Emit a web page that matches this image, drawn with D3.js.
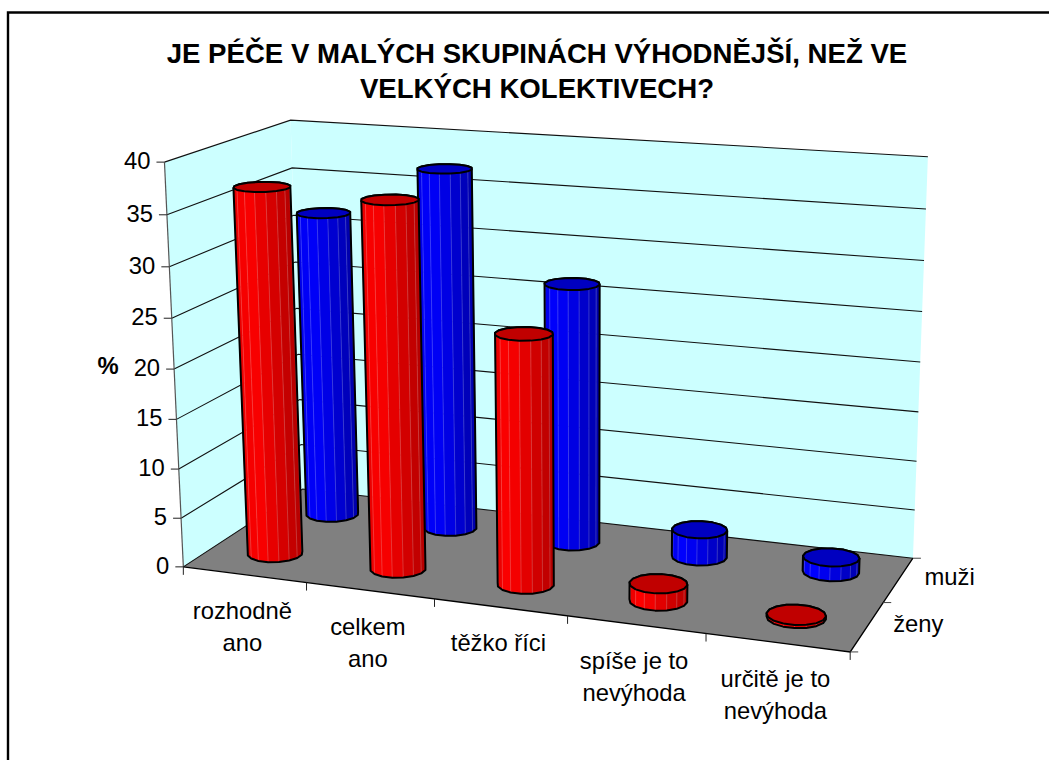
<!DOCTYPE html>
<html>
<head>
<meta charset="utf-8">
<title>Je péče v malých skupinách výhodnější</title>
<script src="https://cdn.jsdelivr.net/npm/d3@7"></script>
<style>
  body { margin: 0; background: #fff; }
  text { font-family: "Liberation Sans", Arial, sans-serif; fill: #000; }
</style>
</head>
<body>
<div id="root"></div>
<script>
// chart data
const categories = ["rozhodně ano", "celkem ano", "těžko říci", "spíše je to nevýhoda", "určitě je to nevýhoda"];
const categoryLines = [["rozhodně", "ano"], ["celkem", "ano"], ["těžko říci"], ["spíše je to", "nevýhoda"], ["určitě je to", "nevýhoda"]];
const seriesNames = ["ženy", "muži"];
const zeny = [36.9, 36.5, 24.7, 1.7, 0.3];
const muzi = [31.9, 37.2, 26.6, 2.8, 1.5];
const yTicks = [0, 5, 10, 15, 20, 25, 30, 35, 40];
const titleLines = ["JE PÉČE V MALÝCH SKUPINÁCH VÝHODNĚJŠÍ, NEŽ VE", "VELKÝCH KOLEKTIVECH?"];

// scales, everything goes to the unit cube first
const x = d3.scaleBand().domain(categories).range([0, 1]);
const y = d3.scaleLinear().domain([0, 40]).range([0, 1]);
const z = d3.scaleBand().domain(seriesNames).range([0, 1]);

// where the corners of the chart box sit on the page: [cube x, y, z, page x, page y]
const boxCorners = [
  [0, 0, 0, 183, 566],
  [1, 0, 0, 850, 653],
  [0, 0, 1, 303, 490],
  [1, 0, 1, 913, 557],
  [0, 1, 0, 165, 162],
  [0, 1, 1, 290, 120],
  [1, 1, 1, 928, 157],
];

// fit the perspective camera to the corners (least squares)
function fitCamera(corners) {
  const rows = [], rhs = [];
  corners.forEach(([a, b, c, px, py]) => {
    rows.push([a, b, c, 1, 0, 0, 0, 0, -px * a, -px * b, -px * c]);
    rhs.push(px);
    rows.push([0, 0, 0, 0, a, b, c, 1, -py * a, -py * b, -py * c]);
    rhs.push(py);
  });
  const n = 11;
  const m = d3.range(n).map((i) => {
    const row = d3.range(n).map((j) => d3.sum(rows, (r) => r[i] * r[j]));
    row.push(d3.sum(rows, (r, k) => r[i] * rhs[k]));
    return row;
  });
  for (let i = 0; i < n; i++) {
    let pivot = i;
    for (let k = i + 1; k < n; k++) if (Math.abs(m[k][i]) > Math.abs(m[pivot][i])) pivot = k;
    [m[i], m[pivot]] = [m[pivot], m[i]];
    for (let k = 0; k < n; k++) {
      if (k === i) continue;
      const f = m[k][i] / m[i][i];
      for (let j = i; j <= n; j++) m[k][j] -= f * m[i][j];
    }
  }
  return m.map((row, i) => row[n] / row[i]);
}

const cam = fitCamera(boxCorners);

const project = (a, b, c) => {
  const w = cam[8] * a + cam[9] * b + cam[10] * c + 1;
  return [
    (cam[0] * a + cam[1] * b + cam[2] * c + cam[3]) / w,
    (cam[4] * a + cam[5] * b + cam[6] * c + cam[7]) / w,
  ];
};

const path = (pts) => d3.line()(pts) + "Z";

const svg = d3.select("#root").append("svg").attr("width", 1049).attr("height", 760);

// frame, only left and top are in the picture
svg.append("path")
  .attr("d", "M8,760V12.5H1049")
  .attr("fill", "none")
  .attr("stroke", "#000")
  .attr("stroke-width", 2.4);

// title
svg.selectAll("text.title")
  .data(titleLines)
  .join("text")
  .attr("class", "title")
  .attr("x", 537)
  .attr("y", (d, i) => 63 + i * 35)
  .attr("text-anchor", "middle")
  .attr("font-weight", "bold")
  .attr("font-size", 27.6)
  .text((d) => d);

// walls and floor
const walls = [
  { pts: [[0, 0, 0], [0, 1, 0], [0, 1, 1], [0, 0, 1]], fill: "#ccffff" },
  { pts: [[0, 0, 1], [0, 1, 1], [1, 1, 1], [1, 0, 1]], fill: "#ccffff" },
  { pts: [[0, 0, 0], [1, 0, 0], [1, 0, 1], [0, 0, 1]], fill: "#808080" },
];
svg.selectAll("path.wall")
  .data(walls)
  .join("path")
  .attr("class", "wall")
  .attr("d", (d) => path(d.pts.map((p) => project(...p))))
  .attr("fill", (d) => d.fill);

// gridlines over left and back wall
svg.selectAll("path.grid")
  .data(yTicks)
  .join("path")
  .attr("class", "grid")
  .attr("d", (d) => d3.line()([project(0, y(d), 0), project(0, y(d), 1), project(1, y(d), 1)]))
  .attr("fill", "none")
  .attr("stroke", "#111")
  .attr("stroke-width", 1.1);

// value axis
svg.append("path")
  .attr("d", d3.line()([project(0, 1, 0), project(0, 0, 0)]))
  .attr("stroke", "#555")
  .attr("stroke-width", 1.2);

const yAxis = svg.selectAll("g.ytick").data(yTicks).join("g").attr("class", "ytick")
  .attr("transform", (d) => "translate(" + project(0, y(d), 0) + ")");
yAxis.append("line").attr("x1", -8).attr("x2", 0).attr("stroke", "#333").attr("stroke-width", 1.1);
yAxis.append("text")
  .attr("x", -14)
  .attr("y", 7)
  .attr("text-anchor", "end")
  .attr("font-size", 23.8)
  .text((d) => d);

svg.append("text")
  .attr("x", 108)
  .attr("y", 374)
  .attr("text-anchor", "middle")
  .attr("font-weight", "bold")
  .attr("font-size", 23.8)
  .text("%");

// floor edges and ticks
svg.append("path")
  .attr("d", d3.line()([project(0, 0, 0), project(1, 0, 0), project(1, 0, 1)]))
  .attr("fill", "none")
  .attr("stroke", "#000")
  .attr("stroke-width", 1.3);

const xEdges = categories.map((d) => x(d)).concat(1);
svg.selectAll("line.xtick")
  .data(xEdges)
  .join("line")
  .attr("class", "xtick")
  .attr("x1", (d) => project(d, 0, 0)[0])
  .attr("x2", (d) => project(d, 0, 0)[0])
  .attr("y1", (d) => project(d, 0, 0)[1])
  .attr("y2", (d) => project(d, 0, 0)[1] + 8)
  .attr("stroke", "#222");

const zEdges = seriesNames.map((d) => z(d)).concat(1);
svg.selectAll("line.ztick")
  .data(zEdges)
  .join("line")
  .attr("class", "ztick")
  .attr("x1", (d) => project(1, 0, d)[0])
  .attr("x2", (d) => project(1, 0, d)[0] + 8)
  .attr("y1", (d) => project(1, 0, d)[1])
  .attr("y2", (d) => project(1, 0, d)[1])
  .attr("stroke", "#444");

// category labels
const xLabels = svg.selectAll("text.xlabel")
  .data(categories)
  .join("text")
  .attr("class", "xlabel")
  .attr("text-anchor", "middle")
  .attr("font-size", 23.8);
xLabels.each(function (d, i) {
  const p = project(x(d) + x.bandwidth() / 2, 0, 0);
  d3.select(this).selectAll("tspan")
    .data(categoryLines[i])
    .join("tspan")
    .attr("x", p[0] - 2)
    .attr("y", (l, k) => p[1] + 44 + k * 32)
    .text((l) => l);
});

// series labels
svg.selectAll("text.zlabel")
  .data(seriesNames)
  .join("text")
  .attr("class", "zlabel")
  .attr("x", (d) => project(1, 0, z(d) + z.bandwidth() / 2)[0] + 26)
  .attr("y", (d) => project(1, 0, z(d) + z.bandwidth() / 2)[1] + 5)
  .attr("font-size", 23.8)
  .text((d) => d);

// one cylinder: facets facing us, then the silhouette, then the lid
const FACETS = 16;

function drawCylinder(g, category, series, value, colors) {
  const cx = x(category) + x.bandwidth() / 2;
  const cz = z(series) + z.bandwidth() / 2;
  const rx = x.bandwidth() * 0.205;
  const rz = z.bandwidth() * 0.2;
  const top = y(value);
  const ring = (h) => d3.range(FACETS).map((i) => {
    const t = ((i + 0.5) / FACETS) * 2 * Math.PI;
    return project(cx + rx * Math.cos(t), h, cz + rz * Math.sin(t));
  });
  const upper = ring(top), lower = ring(0);

  // facing facets: the ones whose bottom edge runs left to right on the page
  const quads = d3.range(FACETS)
    .map((i) => {
      const j = (i + 1) % FACETS;
      return [lower[i], lower[j], upper[j], upper[i]];
    })
    .filter((q) => q[1][0] > q[0][0])
    .sort((a, b) => a[0][0] - b[0][0]);

  const xs = lower.map((p) => p[0]);
  const shade = d3.scaleLinear().domain([d3.min(xs), d3.max(xs)]).range([0, 1]);
  const color = d3.scaleLinear().domain([0, 0.2, 0.55, 1]).range(colors.side);

  g.selectAll(null)
    .data(quads)
    .join("path")
    .attr("d", path)
    .attr("fill", (q) => color(shade((q[0][0] + q[1][0]) / 2)))
    .attr("stroke", (q) => color(shade((q[0][0] + q[1][0]) / 2)))
    .attr("stroke-width", 0.6);

  // pale seams between facets
  g.selectAll(null)
    .data(quads.slice(1))
    .join("line")
    .attr("x1", (q) => q[0][0])
    .attr("y1", (q) => q[0][1])
    .attr("x2", (q) => q[3][0])
    .attr("y2", (q) => q[3][1])
    .attr("stroke", "#fff")
    .attr("stroke-opacity", 0.22)
    .attr("stroke-width", 0.9);

  g.append("path")
    .attr("d", path(d3.polygonHull(upper.concat(lower))))
    .attr("fill", "none")
    .attr("stroke", "#000")
    .attr("stroke-width", 2)
    .attr("stroke-linejoin", "round");

  g.append("path")
    .attr("d", path(upper))
    .attr("fill", colors.top)
    .attr("stroke", "#000")
    .attr("stroke-width", 2)
    .attr("stroke-linejoin", "round");
}

const red = { side: ["#e60000", "#ff0000", "#e00000", "#b40000"], top: "#c00000" };
const blue = { side: ["#0000e6", "#0000ff", "#0000e0", "#0000a8"], top: "#0000c0" };

// back row first so the front row covers it
const barsBack = svg.append("g").attr("class", "muzi");
categories.forEach((c, i) => drawCylinder(barsBack.append("g"), c, "muži", muzi[i], blue));
const barsFront = svg.append("g").attr("class", "zeny");
categories.forEach((c, i) => drawCylinder(barsFront.append("g"), c, "ženy", zeny[i], red));
</script>
</body>
</html>
